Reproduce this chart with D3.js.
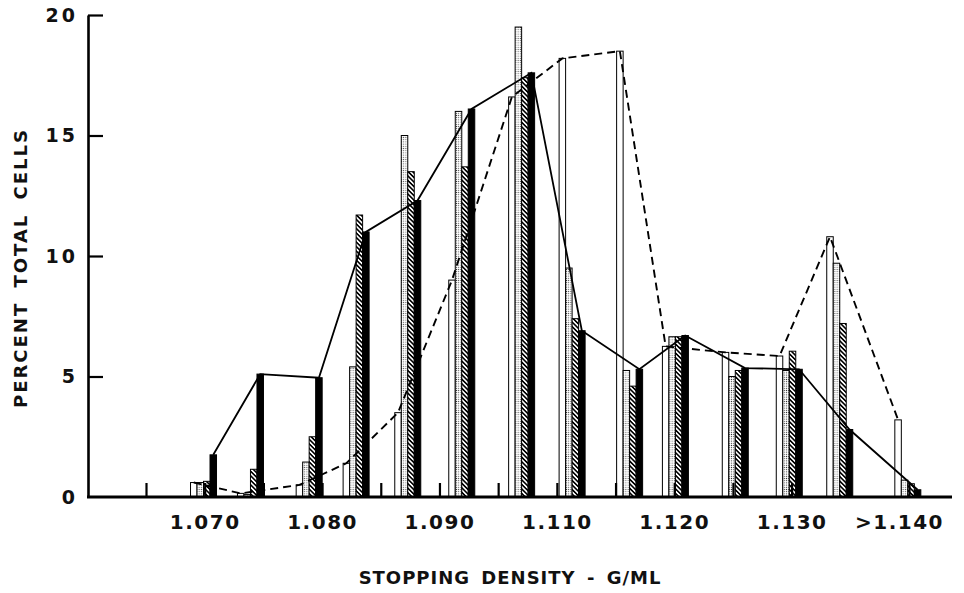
<!DOCTYPE html>
<html>
<head>
<meta charset="utf-8">
<script src="https://cdn.jsdelivr.net/npm/d3@7"></script>
<style>
  body { margin: 0; background: #fff; }
  svg text { font-family: "DejaVu Sans", sans-serif; font-weight: bold; fill: #111; }
</style>
</head>
<body>
<svg width="964" height="593"></svg>
<script>
// stopping density of each collected fraction (g/ml)
const densities = [1.0699, 1.0739, 1.0789, 1.0829, 1.0873, 1.0919, 1.0970, 1.1013, 1.1062, 1.1101, 1.1152, 1.1198, 1.1241, 1.1299];

// percent of total cells in each fraction, one array per bar style
const openVals    = [0.6, 0.15, 0.5, 1.4, 3.5, 9.0, 16.6, 18.2, 18.5, 6.25, 6.0, 5.85, 10.8, 3.2];
const dottedVals  = [0.6, 0.1, 1.45, 5.4, 15.0, 16.0, 19.5, 9.5, 5.25, 6.65, 5.0, 5.25, 9.7, 0.7];
const hatchedVals = [0.65, 1.15, 2.5, 11.7, 13.5, 13.7, 17.4, 7.4, 4.6, 6.65, 5.25, 6.05, 7.2, 0.55];
const solidVals   = [1.75, 5.1, 4.95, 11.0, 12.3, 16.1, 17.6, 6.9, 5.3, 6.7, 5.35, 5.3, 2.8, 0.3];

// axis ticks
const minorTicks = [1.065, 1.070, 1.075, 1.080, 1.085, 1.090, 1.095, 1.100, 1.105, 1.110, 1.115, 1.120, 1.125, 1.130];
const labelTicks = [1.070, 1.080, 1.090, 1.100, 1.110, 1.120, 1.130];
const tickLabels = ["1.070", "1.080", "1.090", "1.110", "1.120", "1.130", ">1.140"];
const yTicks = [0, 5, 10, 15, 20];

const svg = d3.select("svg");

const x = d3.scaleLinear().domain([1.065, 1.130]).range([146, 909]);
const y = d3.scaleLinear().domain([0, 20]).range([497, 15]);

// position of the four bars inside a fraction
const series = [
  { key: "open", vals: openVals, fill: "#fff" },
  { key: "dotted", vals: dottedVals, fill: "url(#dots)" },
  { key: "hatched", vals: hatchedVals, fill: "url(#hatch)" },
  { key: "solid", vals: solidVals, fill: "#000" }
];
const band = d3.scaleBand().domain(series.map(s => s.key)).range([-13, 13]).padding(0);

// patterns
const defs = svg.append("defs");
const dots = defs.append("pattern")
  .attr("id", "dots").attr("patternUnits", "userSpaceOnUse")
  .attr("width", 2.2).attr("height", 2.2);
dots.append("rect").attr("width", 2.2).attr("height", 2.2).attr("fill", "#fff");
dots.append("circle").attr("cx", 1.1).attr("cy", 1.1).attr("r", 0.55).attr("fill", "#333");

const hatch = defs.append("pattern")
  .attr("id", "hatch").attr("patternUnits", "userSpaceOnUse")
  .attr("width", 3.2).attr("height", 3.2)
  .attr("patternTransform", "rotate(-45)");
hatch.append("rect").attr("width", 3.2).attr("height", 3.2).attr("fill", "#fff");
hatch.append("rect").attr("width", 1.6).attr("height", 3.2).attr("fill", "#000");

// bars
series.forEach(function(s) {
  svg.append("g").selectAll("rect")
    .data(s.vals)
    .join("rect")
    .attr("x", (d, i) => x(densities[i]) + band(s.key))
    .attr("y", d => y(d))
    .attr("width", band.bandwidth())
    .attr("height", d => y(0) - y(d))
    .attr("fill", s.fill)
    .attr("stroke", "#000")
    .attr("stroke-width", 1);
});

// lines joining the open bars (dashed) and solid bars (solid)
const half = band.bandwidth() / 2;
const dashedLine = d3.line()
  .x((d, i) => x(densities[i]) + band("open") + half)
  .y(d => y(d));
const solidLine = d3.line()
  .x((d, i) => x(densities[i]) + band("solid") + half)
  .y(d => y(d));

svg.append("path")
  .attr("d", dashedLine(openVals))
  .attr("fill", "none").attr("stroke", "#000")
  .attr("stroke-width", 1.9).attr("stroke-dasharray", "8,5");

svg.append("path")
  .attr("d", solidLine(solidVals))
  .attr("fill", "none").attr("stroke", "#000")
  .attr("stroke-width", 1.8);

// y axis: ticks point into the plot
const yAxis = svg.append("g")
  .attr("transform", "translate(88,0)")
  .call(d3.axisLeft(y).tickValues(yTicks).tickFormat(d3.format("d"))
    .tickSizeInner(-15).tickSizeOuter(0).tickPadding(10));
yAxis.select(".domain").attr("stroke-width", 2.6);
yAxis.selectAll(".tick line").attr("stroke-width", 2.2);
yAxis.selectAll(".tick").filter(d => d === 0).select("line").remove();
yAxis.selectAll(".tick text")
  .attr("font-size", 19).attr("letter-spacing", "3px")
  .style("font-family", "'DejaVu Sans', sans-serif").style("font-weight", "bold");

// x axis: small upright marks at each fraction step, labels every other step
const xAxis = svg.append("g")
  .attr("transform", "translate(0," + y(0) + ")")
  .call(d3.axisBottom(x).tickValues(minorTicks)
    .tickFormat(function(d) {
      const k = labelTicks.findIndex(t => Math.abs(t - d) < 1e-6);
      return k >= 0 ? tickLabels[k] : "";
    })
    .tickSizeInner(-14).tickSizeOuter(0).tickPadding(18));
xAxis.select(".domain").remove();
xAxis.selectAll(".tick line").attr("stroke-width", 2.2);
xAxis.selectAll(".tick text")
  .attr("font-size", 20).attr("letter-spacing", "1.5px")
  .attr("dx", d => Math.abs(d - 1.130) < 1e-6 ? "-0.5em" : 0)
  .style("font-family", "'DejaVu Sans', sans-serif").style("font-weight", "bold");

svg.append("line")
  .attr("x1", 87).attr("x2", 952)
  .attr("y1", y(0)).attr("y2", y(0))
  .attr("stroke", "#000").attr("stroke-width", 2.8);

// titles
svg.append("text")
  .attr("transform", "translate(27,268) rotate(-90)")
  .attr("text-anchor", "middle")
  .attr("font-size", 18)
  .attr("letter-spacing", "2px")
  .attr("word-spacing", "6px")
  .text("PERCENT TOTAL CELLS");

svg.append("text")
  .attr("x", 510).attr("y", 584)
  .attr("text-anchor", "middle")
  .attr("font-size", 18)
  .attr("letter-spacing", "1px")
  .attr("word-spacing", "4px")
  .text("STOPPING DENSITY - G/ML");
</script>
</body>
</html>
